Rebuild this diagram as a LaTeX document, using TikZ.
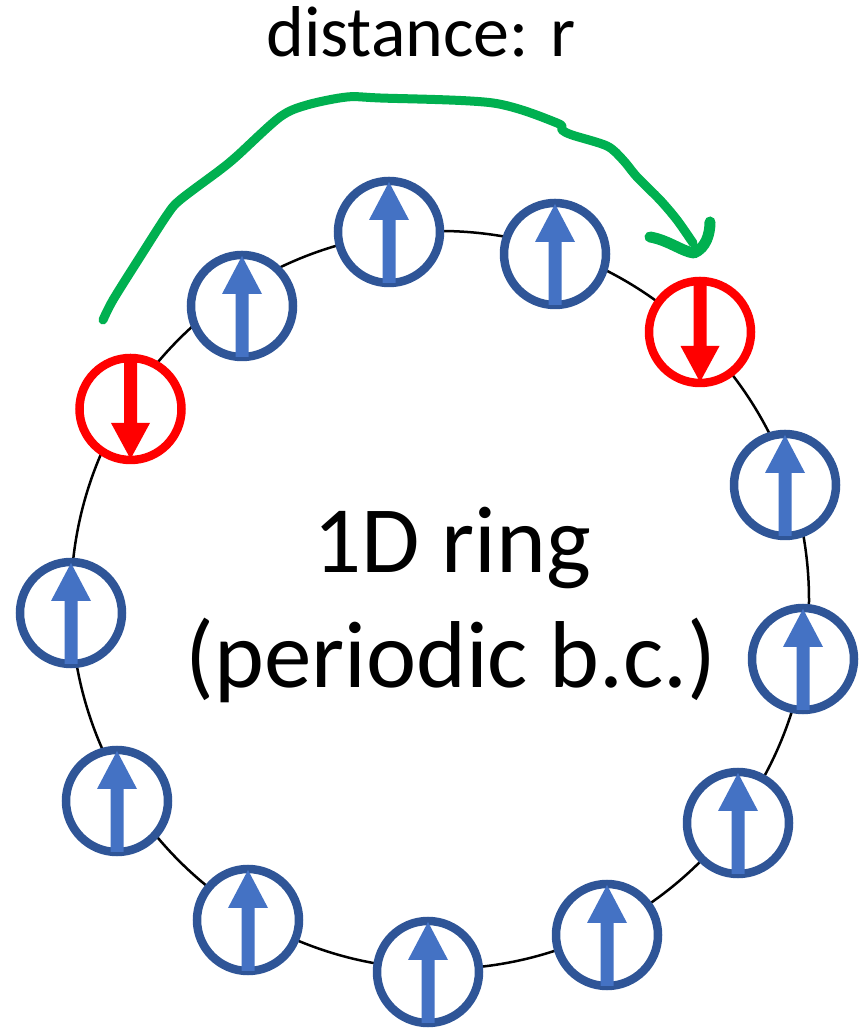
\documentclass[tikz,border=0pt]{standalone}
\usepackage{fontspec}
\setmainfont{Carlito}
\definecolor{spinblue}{HTML}{4472C4}
\definecolor{spinring}{HTML}{2F5597}
\definecolor{flipred}{HTML}{FF0000}
\definecolor{pathgreen}{HTML}{00B050}

\begin{document}
\begin{tikzpicture}[x=1pt,y=1pt,
  site/.style={circle, draw=spinring, fill=white, line width=8.5pt,
               minimum size=102pt, inner sep=0pt},
  flipsite/.style={site, draw=flipred},
  upspin/.style={fill=spinblue},
  downspin/.style={fill=flipred},
  ringline/.style={draw=black, line width=2.5pt},
  hop/.style={draw=pathgreen, line width=9pt, line cap=round, line join=round},
  txt/.style={inner sep=0pt, anchor=base, text=black}]

\useasboundingbox (0,0) rectangle (866,1030);

% the periodic chain
\coordinate (ringc) at (440,430);
\draw[ringline] (ringc) circle[radius=369];

% up spins
\foreach \n/\x/\y in {s1/785/545, s3/555/776, s4/389/798, s5/242/724,
                      s7/71/417, s8/117/229, s9/248/110, s10/428/58,
                      s11/607/95, s12/738/207, s13/803/371}
  \node[site] (\n) at (\x,\y) {};
% flipped spins
\foreach \n/\x/\y in {s2/700/698, s6/130.5/621}
  \node[flipsite] (\n) at (\x,\y) {};

% spin arrows
\foreach \n in {s1,s3,s4,s5,s7,s8,s9,s10,s11,s12,s13}
  \fill[upspin, shift={(\n.center)}]
    (-6.5,-51) -- (6.5,-51) -- (6.5,12) -- (20,12) -- (0,50)
    -- (-20,12) -- (-6.5,12) -- cycle;
\foreach \n in {s2,s6}
  \fill[downspin, shift={(\n.center)}]
    (-6.5,50) -- (6.5,50) -- (6.5,-14) -- (19.5,-14) -- (0,-50)
    -- (-19.5,-14) -- (-6.5,-14) -- cycle;

% hand-drawn distance arrow between the flipped spins
\coordinate (hopstart) at (103,710);
\coordinate (hopend) at (693,787);
\draw[hop] plot[smooth, tension=0.5] coordinates {
  (hopstart) (113,730) (140,773) (167,815) (180,830) (220,860) (237,874)
  (280,913) (307,925) (347,933) (380,932) (493,927) (557,907) (562,900)
  (572,895) (607,884) (623,870) (637,853) (660,830) (677,810) (hopend)};
\draw[hop, line width=11pt]
  (650,793) .. controls (668,790) and (683,778) .. (694,777)
  .. controls (706,782) and (710,796) .. (710,808);

% labels
\node[txt, font=\fontsize{72}{86}\selectfont] (title) at (421,973) {distance: r};
\node[txt, font=\fontsize{95}{116}\selectfont] (name) at (452,457) {1D ring};
\node[txt, font=\fontsize{95}{116}\selectfont] (bc) at (451,342) {(periodic b.c.)};
\end{tikzpicture}
\end{document}
